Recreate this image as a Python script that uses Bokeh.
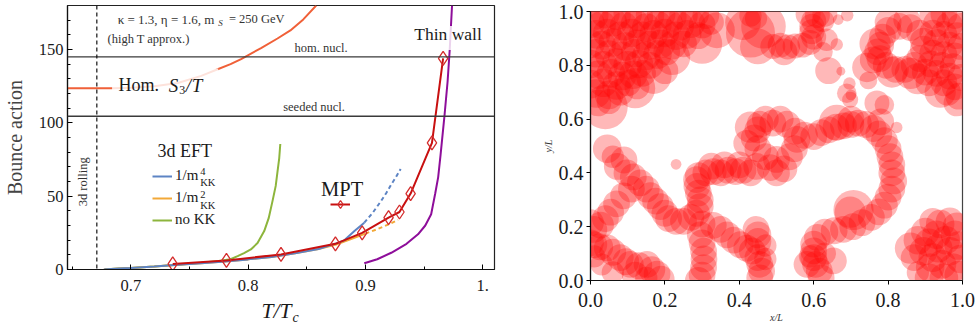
import math
from bokeh.plotting import figure
from bokeh.models import (Range1d, FixedTicker, Label, BoxAnnotation, Span, Legend,
                          LegendItem, PrintfTickFormatter, Spacer)
from bokeh.layouts import row, column
from bokeh.embed import file_html
from bokeh.resources import INLINE

FONT = "Liberation Serif"

# ---------------- left panel data ----------------
hom_T = [0.646, 0.665, 0.685, 0.70, 0.72, 0.74, 0.76, 0.774, 0.785, 0.794, 0.811, 0.825, 0.836, 0.847, 0.858]
hom_S = [123.5, 123.5, 123.6, 124.0, 125.0, 127.2, 132.0, 136.5, 140.0, 143.5, 151.0, 157.5, 163.0, 170.5, 180.0]

tw_T = [0.899, 0.91, 0.922, 0.935, 0.9448, 0.951, 0.956, 0.9595, 0.962, 0.964, 0.9675, 0.970, 0.9718, 0.9738]
tw_S = [4.3, 7.0, 11.4, 17.5, 24.0, 30.0, 37.7, 52.0, 63.0, 78.0, 106.0, 128.0, 149.5, 180.0]

nokk_T = [0.678, 0.70, 0.72, 0.74, 0.76, 0.775, 0.785, 0.791, 0.7965, 0.8023, 0.808, 0.8137, 0.8175, 0.8208, 0.8235, 0.8251, 0.8265, 0.8274]
nokk_S = [0.2, 1.0, 2.1, 3.3, 4.6, 5.8, 7.0, 9.1, 11.2, 13.7, 18.0, 26.2, 35.0, 46.8, 57.0, 67.3, 76.0, 85.6]

m2_T = [0.677, 0.69, 0.70, 0.72, 0.74, 0.76, 0.78, 0.80, 0.82, 0.84, 0.86, 0.875, 0.89, 0.90]
m2_S = [0.0, 0.6, 1.0, 2.0, 3.2, 4.3, 5.5, 6.9, 8.6, 11.0, 14.0, 17.0, 21.5, 24.5]
m2d_T = [0.90, 0.91, 0.92, 0.9277]
m2d_S = [24.5, 27.5, 30.8, 33.8]

m4_T = [0.677, 0.69, 0.70, 0.72, 0.74, 0.76, 0.78, 0.80, 0.82, 0.84, 0.86, 0.875, 0.882, 0.8906, 0.899]
m4_S = [0.0, 0.6, 1.0, 2.0, 3.2, 4.3, 5.5, 6.9, 8.6, 11.0, 14.0, 17.8, 19.9, 26.2, 31.9]
m4d_T = [0.899, 0.906, 0.9134, 0.918, 0.922, 0.926, 0.930]
m4d_S = [31.9, 38.5, 46.8, 52.5, 58.0, 63.0, 68.5]

mpt_T = [0.7357, 0.7815, 0.828, 0.8744, 0.8972, 0.9197, 0.929, 0.9385, 0.9567, 0.9662]
mpt_S = [3.8, 6.2, 10.3, 17.5, 25.0, 35.4, 39.2, 51.8, 86.3, 144.0]

hom_nucl = 145.0
seeded_nucl = 104.5
rolling_T = 0.671

x_ticks = [0.7, 0.8, 0.9, 1.0]
x_minor = [0.65, 0.75, 0.85, 0.95]
y_ticks = [0, 50, 100, 150]
y_minor = [10, 20, 30, 40, 60, 70, 80, 90, 110, 120, 130, 140, 160, 170]

# ---------------- right panel data: bubbles (x/L, y/L, radius) ----------------
top_left = [
    (0.01, 0.985, 0.032), (0.04, 0.99, 0.032), (0.07, 0.985, 0.032), (0.10, 0.99, 0.032), (0.13, 0.98, 0.032),
    (0.16, 0.985, 0.032), (0.19, 0.99, 0.032), (0.22, 0.98, 0.032), (0.25, 0.985, 0.032), (0.28, 0.99, 0.032),
    (0.31, 0.985, 0.03),
    (0.0, 0.955, 0.032), (0.03, 0.95, 0.032), (0.06, 0.96, 0.032), (0.09, 0.945, 0.032), (0.12, 0.955, 0.032),
    (0.15, 0.94, 0.032), (0.18, 0.95, 0.032), (0.21, 0.955, 0.032), (0.24, 0.945, 0.032), (0.27, 0.955, 0.032),
    (0.30, 0.95, 0.03), (0.325, 0.96, 0.028),
    (0.015, 0.915, 0.032), (0.045, 0.92, 0.032), (0.08, 0.91, 0.032), (0.11, 0.92, 0.032), (0.14, 0.91, 0.032),
    (0.17, 0.915, 0.032), (0.20, 0.92, 0.032), (0.23, 0.91, 0.032), (0.26, 0.915, 0.032), (0.29, 0.91, 0.03),
    (0.0, 0.88, 0.032), (0.03, 0.875, 0.032), (0.06, 0.885, 0.032), (0.095, 0.87, 0.032), (0.125, 0.88, 0.032),
    (0.16, 0.875, 0.032), (0.19, 0.88, 0.032), (0.22, 0.875, 0.032), (0.25, 0.88, 0.03),
    (0.015, 0.845, 0.032), (0.05, 0.84, 0.032), (0.085, 0.835, 0.032), (0.12, 0.845, 0.032), (0.15, 0.835, 0.032),
    (0.18, 0.84, 0.032), (0.205, 0.85, 0.03),
    (0.0, 0.805, 0.032), (0.035, 0.80, 0.032), (0.07, 0.81, 0.032), (0.10, 0.80, 0.032), (0.13, 0.805, 0.032),
    (0.16, 0.80, 0.03),
    (0.02, 0.765, 0.032), (0.055, 0.77, 0.032), (0.085, 0.76, 0.032), (0.115, 0.765, 0.032), (0.14, 0.77, 0.03),
    (0.0, 0.73, 0.032), (0.035, 0.735, 0.032), (0.07, 0.725, 0.032), (0.10, 0.735, 0.03), (0.125, 0.72, 0.028),
    (0.015, 0.695, 0.032), (0.05, 0.69, 0.032), (0.08, 0.70, 0.03),
    (0.02, 0.66, 0.03), (0.05, 0.665, 0.028),
    (0.04, 0.645, 0.05), (0.12, 0.715, 0.045), (0.17, 0.76, 0.04), (0.22, 0.83, 0.04), (0.30, 0.88, 0.045),
    (0.34, 0.93, 0.04), (0.20, 0.78, 0.03),
]

top_mid = [
    (0.43, 0.92, 0.055), (0.465, 0.945, 0.05), (0.45, 0.87, 0.04), (0.41, 0.96, 0.04),
    (0.43, 0.985, 0.025), (0.445, 0.975, 0.025),
    (0.49, 0.87, 0.028), (0.51, 0.875, 0.028), (0.53, 0.868, 0.028), (0.55, 0.872, 0.028), (0.57, 0.875, 0.028),
    (0.59, 0.885, 0.028), (0.60, 0.905, 0.028), (0.595, 0.925, 0.028), (0.595, 0.945, 0.028), (0.60, 0.965, 0.028),
    (0.61, 0.985, 0.028), (0.585, 0.99, 0.028), (0.63, 0.99, 0.028), (0.625, 0.965, 0.025),
    (0.635, 0.895, 0.025), (0.625, 0.85, 0.022), (0.69, 0.986, 0.014), (0.666, 0.97, 0.012),
    (0.662, 0.877, 0.014), (0.52, 0.85, 0.03),
]

top_right = [
    (0.78, 0.875, 0.03), (0.785, 0.905, 0.03), (0.80, 0.93, 0.03), (0.83, 0.945, 0.03), (0.86, 0.94, 0.03),
    (0.885, 0.92, 0.03), (0.895, 0.89, 0.03), (0.895, 0.86, 0.03), (0.885, 0.825, 0.03), (0.87, 0.80, 0.03),
    (0.845, 0.785, 0.03), (0.82, 0.785, 0.03), (0.795, 0.80, 0.03), (0.778, 0.825, 0.03), (0.772, 0.85, 0.03),
    (0.765, 0.88, 0.035), (0.80, 0.96, 0.03), (0.85, 0.97, 0.03), (0.81, 0.775, 0.035), (0.86, 0.77, 0.035),
    (0.76, 0.82, 0.03),
    (0.92, 0.985, 0.03), (0.95, 0.99, 0.03), (0.98, 0.985, 0.03), (0.93, 0.955, 0.03), (0.965, 0.95, 0.03),
    (0.995, 0.945, 0.03), (0.92, 0.92, 0.03), (0.95, 0.915, 0.03), (0.985, 0.91, 0.03), (0.93, 0.885, 0.03),
    (0.965, 0.875, 0.03), (0.995, 0.87, 0.03), (0.92, 0.845, 0.03), (0.95, 0.84, 0.03), (0.98, 0.835, 0.03),
    (0.915, 0.805, 0.03), (0.945, 0.80, 0.03), (0.975, 0.795, 0.03), (0.90, 0.775, 0.03), (0.93, 0.77, 0.03),
    (0.965, 0.76, 0.03), (0.995, 0.755, 0.03), (0.95, 0.735, 0.03), (0.98, 0.72, 0.03), (0.96, 0.70, 0.03),
    (0.99, 0.685, 0.03), (0.985, 0.66, 0.03),
    (0.88, 0.75, 0.035), (0.91, 0.735, 0.03), (0.94, 0.70, 0.035),
]

scattered = [
    (0.64, 0.78, 0.03), (0.673, 0.778, 0.01), (0.696, 0.732, 0.014), (0.689, 0.696, 0.022), (0.70, 0.69, 0.012),
    (0.698, 0.672, 0.018), (0.743, 0.792, 0.033), (0.747, 0.744, 0.02), (0.77, 0.66, 0.028), (0.79, 0.653, 0.022),
    (0.823, 0.569, 0.013), (0.23, 0.432, 0.012),
]

middle = [
    (0.456, 0.581, 0.03), (0.49, 0.585, 0.03), (0.528, 0.581, 0.03), (0.55, 0.555, 0.03), (0.555, 0.525, 0.03),
    (0.548, 0.49, 0.03), (0.535, 0.46, 0.03), (0.50, 0.45, 0.03), (0.47, 0.46, 0.03), (0.45, 0.49, 0.03),
    (0.44, 0.53, 0.03), (0.45, 0.56, 0.03),
    (0.43, 0.57, 0.035), (0.47, 0.60, 0.03), (0.51, 0.60, 0.03), (0.42, 0.51, 0.03),
    (0.483, 0.42, 0.03), (0.52, 0.415, 0.03), (0.447, 0.424, 0.03), (0.50, 0.40, 0.03), (0.43, 0.40, 0.03),
    (0.29, 0.39, 0.03), (0.31, 0.40, 0.03), (0.33, 0.405, 0.03), (0.35, 0.40, 0.03), (0.37, 0.41, 0.03),
    (0.39, 0.405, 0.03), (0.41, 0.41, 0.03), (0.325, 0.425, 0.03), (0.36, 0.43, 0.03), (0.40, 0.43, 0.03),
    (0.575, 0.54, 0.03), (0.60, 0.535, 0.03), (0.62, 0.55, 0.03), (0.64, 0.56, 0.03), (0.66, 0.57, 0.03),
    (0.68, 0.575, 0.03), (0.70, 0.58, 0.03), (0.72, 0.585, 0.03), (0.74, 0.58, 0.03), (0.76, 0.565, 0.03),
    (0.775, 0.545, 0.03), (0.79, 0.52, 0.03), (0.80, 0.49, 0.03), (0.805, 0.46, 0.03), (0.81, 0.43, 0.03),
    (0.81, 0.40, 0.03), (0.815, 0.37, 0.03), (0.81, 0.34, 0.03), (0.80, 0.31, 0.03), (0.79, 0.28, 0.03),
    (0.775, 0.255, 0.03), (0.755, 0.235, 0.03), (0.73, 0.215, 0.03), (0.705, 0.20, 0.03), (0.68, 0.19, 0.03),
    (0.655, 0.185, 0.03), (0.63, 0.18, 0.03), (0.61, 0.16, 0.03), (0.60, 0.135, 0.03), (0.60, 0.11, 0.03),
    (0.60, 0.085, 0.03), (0.605, 0.06, 0.03), (0.615, 0.035, 0.03), (0.62, 0.01, 0.03),
    (0.662, 0.587, 0.04), (0.707, 0.262, 0.045), (0.698, 0.254, 0.035), (0.653, 0.073, 0.03), (0.582, 0.06, 0.03),
    (0.59, 0.09, 0.025), (0.63, 0.10, 0.025), (0.70, 0.60, 0.03), (0.78, 0.59, 0.03),
]

left_bottom = [
    (0.045, 0.49, 0.032), (0.09, 0.448, 0.03), (0.06, 0.46, 0.025),
    (0.072, 0.424, 0.03), (0.098, 0.40, 0.03), (0.115, 0.385, 0.03), (0.134, 0.363, 0.03), (0.15, 0.34, 0.03),
    (0.161, 0.315, 0.03), (0.175, 0.295, 0.03), (0.188, 0.275, 0.03), (0.20, 0.25, 0.03), (0.21, 0.23, 0.03),
    (0.23, 0.22, 0.03), (0.25, 0.22, 0.03), (0.27, 0.235, 0.03), (0.285, 0.25, 0.03), (0.295, 0.275, 0.03),
    (0.295, 0.30, 0.03), (0.29, 0.325, 0.03), (0.286, 0.35, 0.03), (0.285, 0.375, 0.03),
    (0.11, 0.34, 0.03), (0.089, 0.315, 0.03), (0.07, 0.285, 0.03), (0.054, 0.254, 0.03), (0.04, 0.23, 0.03),
    (0.027, 0.206, 0.03), (0.009, 0.19, 0.03), (0.0, 0.215, 0.03),
    (0.30, 0.21, 0.03), (0.295, 0.17, 0.03), (0.30, 0.14, 0.03), (0.304, 0.109, 0.03), (0.305, 0.08, 0.03),
    (0.304, 0.048, 0.03), (0.30, 0.02, 0.03), (0.29, 0.0, 0.03),
    (0.33, 0.205, 0.03), (0.35, 0.19, 0.03), (0.367, 0.17, 0.03), (0.385, 0.15, 0.03), (0.403, 0.133, 0.03),
    (0.42, 0.12, 0.03), (0.435, 0.11, 0.03),
    (0.45, 0.17, 0.03), (0.445, 0.19, 0.03), (0.45, 0.145, 0.03), (0.45, 0.085, 0.03), (0.455, 0.06, 0.03),
    (0.46, 0.035, 0.03), (0.455, 0.01, 0.03), (0.47, 0.13, 0.025), (0.47, 0.08, 0.025),
    (0.0, 0.14, 0.03), (0.009, 0.133, 0.03), (0.025, 0.125, 0.03), (0.045, 0.121, 0.03), (0.06, 0.105, 0.03),
    (0.08, 0.085, 0.03), (0.095, 0.07, 0.03), (0.107, 0.06, 0.03), (0.13, 0.055, 0.03), (0.152, 0.06, 0.03),
    (0.165, 0.04, 0.03), (0.179, 0.024, 0.03), (0.19, 0.005, 0.03), (0.01, 0.09, 0.025), (0.03, 0.06, 0.025),
    (0.06, 0.03, 0.025), (0.12, 0.02, 0.03), (0.15, 0.01, 0.025),
]

bottom_right = [
    (0.86, 0.12, 0.035), (0.87, 0.085, 0.03), (0.88, 0.15, 0.032), (0.895, 0.109, 0.032), (0.90, 0.18, 0.032),
    (0.91, 0.14, 0.032), (0.913, 0.048, 0.032), (0.92, 0.085, 0.032), (0.93, 0.17, 0.032), (0.935, 0.12, 0.032),
    (0.94, 0.21, 0.032), (0.945, 0.06, 0.032), (0.955, 0.15, 0.032), (0.966, 0.109, 0.032), (0.966, 0.218, 0.032),
    (0.975, 0.048, 0.032), (0.98, 0.17, 0.032), (0.99, 0.13, 0.032), (0.995, 0.08, 0.032), (0.99, 0.02, 0.032),
    (0.95, 0.01, 0.032), (0.91, 0.01, 0.032), (0.88, 0.03, 0.025), (0.985, 0.20, 0.032), (0.92, 0.22, 0.03),
]

xy_ticks = [0.0, 0.2, 0.4, 0.6, 0.8, 1.0]

# ---------------- colours / styling ----------------
C_HOM = "#f06038"
C_TW = "#8e0e9a"
C_GREEN = "#8db53c"
C_ORANGE = "#f2a838"
C_BLUE = "#5d84c4"
C_MPT = "#c81010"
C_MPT_M = "#d42c2c"
BUBBLE_SCALE = 1.2
BUBBLE_ALPHA = 0.28


def lab(p, x, y, text, size, style="normal", align="left", baseline="middle",
        color="#1a1a1a", angle=0.0, units="data"):
    p.add_layout(Label(x=x, y=y, text=text, text_font=FONT, text_font_size=f"{size}px",
                       text_font_style=style, text_align=align, text_baseline=baseline,
                       text_color=color, angle=angle, x_units=units, y_units=units))


# ================= LEFT FIGURE =================
p1 = figure(width=496, height=300, x_range=Range1d(0.646, 1.01), y_range=Range1d(0, 180),
            output_backend="svg", toolbar_location=None,
            min_border_left=67, min_border_right=2, min_border_top=5, min_border_bottom=31)
p1.grid.visible = False
p1.outline_line_color = "#222222"
p1.outline_line_width = 1.2

for ax in (p1.xaxis[0], p1.yaxis[0]):
    ax.major_tick_in = 5
    ax.major_tick_out = 0
    ax.minor_tick_in = 3
    ax.minor_tick_out = 0
    ax.axis_line_color = "#111111"
    ax.axis_line_width = 1.2
    ax.major_label_text_font = FONT
    ax.major_label_text_font_size = "16.5px"
    ax.major_label_text_color = "#1a1a1a"
p1.xaxis[0].ticker = FixedTicker(ticks=x_ticks, minor_ticks=x_minor)
p1.xaxis[0].major_label_overrides = {1.0: "1."}
p1.xaxis[0].major_label_standoff = 10
p1.yaxis[0].ticker = FixedTicker(ticks=y_ticks, minor_ticks=y_minor)
p1.yaxis[0].major_label_standoff = 4
p1.yaxis[0].axis_label = "Bounce action"
p1.yaxis[0].axis_label_text_font = FONT
p1.yaxis[0].axis_label_text_font_size = "20px"
p1.yaxis[0].axis_label_text_font_style = "normal"
p1.yaxis[0].axis_label_standoff = 10

# curves
p1.line(hom_T, hom_S, line_color=C_HOM, line_width=2)
p1.line(tw_T, tw_S, line_color=C_TW, line_width=2)
r_green = p1.line(nokk_T, nokk_S, line_color=C_GREEN, line_width=2)
r_orange = p1.line(m2_T, m2_S, line_color=C_ORANGE, line_width=2)
p1.line(m2d_T, m2d_S, line_color=C_ORANGE, line_width=2, line_dash="4 3")
r_blue = p1.line(m4_T, m4_S, line_color=C_BLUE, line_width=2)
p1.line(m4d_T, m4d_S, line_color=C_BLUE, line_width=2, line_dash="4 3")
r_mpt = p1.line(mpt_T, mpt_S, line_color=C_MPT, line_width=2)
r_mpt_m = p1.scatter(mpt_T, mpt_S, marker="diamond", size=14, fill_color=None,
                     line_color=C_MPT_M, line_width=1.3)

# reference lines
p1.add_layout(Span(location=hom_nucl, dimension="width", line_color="#3a3a3a", line_width=1.3))
p1.add_layout(Span(location=seeded_nucl, dimension="width", line_color="#3a3a3a", line_width=1.3))
p1.add_layout(Span(location=rolling_T, dimension="height", line_color="#111111", line_width=1.2,
                   line_dash="4 3"))

# semi-transparent text boxes
p1.add_layout(BoxAnnotation(left=0.684, right=0.7745, bottom=112, top=137, fill_color="white",
                            fill_alpha=0.82, line_color=None, line_alpha=0))
p1.add_layout(BoxAnnotation(left=0.94, right=1.0, bottom=149.6, top=166, fill_color="white",
                            fill_alpha=0.82, line_color=None, line_alpha=0))

# texts
lab(p1, 0.7767, 170.6, "\u03ba = 1.3,  \u03b7 = 1.6,  m", 13, align="right", color="#333333")
lab(p1, 0.7745, 167.8, "S", 9, style="italic", color="#333333")
lab(p1, 0.7836, 170.6, "= 250 GeV", 12.5, color="#333333")
lab(p1, 0.6801, 157.5, "(high T approx.)", 12.5, color="#333333")
lab(p1, 0.8621, 151.3, "hom. nucl.", 12.5, align="center", color="#333333")
lab(p1, 0.8562, 110.6, "seeded nucl.", 12.5, align="center", color="#333333")
lab(p1, 0.9416, 160.8, "Thin wall", 17.5)
lab(p1, 0.6895, 125.7, "Hom.", 18)
lab(p1, 0.7323, 125.7, "S", 19, style="italic")
lab(p1, 0.7412, 122.2, "3", 12)
lab(p1, 0.7467, 125.7, "/", 19, style="italic")
lab(p1, 0.7520, 125.7, "T", 19, style="italic")
lab(p1, 0.7228, 81.0, "3d EFT", 18)
lab(p1, 0.8621, 55.2, "MPT", 20.5)
lab(p1, 0.6596, 59.8, "3d rolling", 12.5, align="center", angle=math.pi / 2, color="#333333")
# legend sub/superscripts
lab(p1, 0.7591, 59.3, "KK", 10.5)
lab(p1, 0.7591, 66.8, "4", 10.5)
lab(p1, 0.7591, 43.8, "KK", 10.5)
lab(p1, 0.7591, 51.3, "2", 10.5)

leg = Legend(items=[LegendItem(label="1/m", renderers=[r_blue]),
                    LegendItem(label="1/m", renderers=[r_orange]),
                    LegendItem(label="no KK", renderers=[r_green])],
             location=(85, 39.3), orientation="vertical", padding=0, margin=0, spacing=2,
             glyph_width=20, glyph_height=20, label_height=20, label_standoff=3,
             label_text_font=FONT, label_text_font_size="15px", label_text_color="#1a1a1a",
             border_line_color=None, background_fill_alpha=0)
p1.add_layout(leg)
leg2 = Legend(items=[LegendItem(label=" ", renderers=[r_mpt, r_mpt_m])],
              location=(263, 54.7), orientation="vertical", padding=0, margin=0, spacing=0,
              glyph_width=20, glyph_height=20, label_height=20, label_standoff=0,
              label_text_font=FONT, label_text_font_size="15px",
              border_line_color=None, background_fill_alpha=0)
p1.add_layout(leg2)

# x-axis title strip "T/T_c" under the left panel (frame aligned with the panel above)
p_lab = figure(width=496, height=25, x_axis_location=None, y_axis_location=None,
               output_backend="svg", toolbar_location=None, min_border=0,
               outline_line_color=None)
p_lab.grid.visible = False
lab(p_lab, 194, 15, "T/T", 21.5, style="italic", units="screen")
lab(p_lab, 225, 8, "c", 14, style="italic", units="screen")

# ================= RIGHT FIGURE =================
p2 = figure(width=440, height=325, x_range=Range1d(0, 1), y_range=Range1d(0, 1),
            output_backend="svg", toolbar_location=None,
            min_border_left=52, min_border_right=16, min_border_top=11, min_border_bottom=45)
p2.grid.visible = False
p2.outline_line_color = "#444444"
p2.outline_line_width = 1.2

bx, by, br = [], [], []
for group in (top_left, top_mid, top_right, scattered, middle, left_bottom, bottom_right):
    for (cx, cy, cr) in group:
        bx.append(cx)
        by.append(cy)
        br.append(cr * BUBBLE_SCALE)
p2.circle(x=bx, y=by, radius=br, fill_color="#ff0000", fill_alpha=BUBBLE_ALPHA, line_color=None)

for ax in (p2.xaxis[0], p2.yaxis[0]):
    ax.ticker = FixedTicker(ticks=xy_ticks, minor_ticks=[])
    ax.formatter = PrintfTickFormatter(format="%.1f")
    ax.major_tick_in = 0
    ax.major_tick_out = 4
    ax.axis_line_color = "#111111"
    ax.axis_line_width = 1.2
    ax.major_label_text_font = FONT
    ax.major_label_text_font_size = "20px"
    ax.major_label_text_color = "#1a1a1a"
    ax.axis_label_text_font = FONT
    ax.axis_label_text_font_size = "10px"
    ax.axis_label_text_font_style = "italic"
    ax.axis_label_text_color = "#333333"
p2.xaxis[0].axis_label = "x/L"
p2.yaxis[0].axis_label = "y/L"
p2.xaxis[0].major_label_standoff = 8
p2.yaxis[0].major_label_standoff = 3
p2.xaxis[0].axis_label_standoff = 2
p2.yaxis[0].axis_label_standoff = 2

layout = row(column(p1, p_lab), Spacer(width=42), p2)
open("out.html", "w").write(file_html(layout, INLINE))
